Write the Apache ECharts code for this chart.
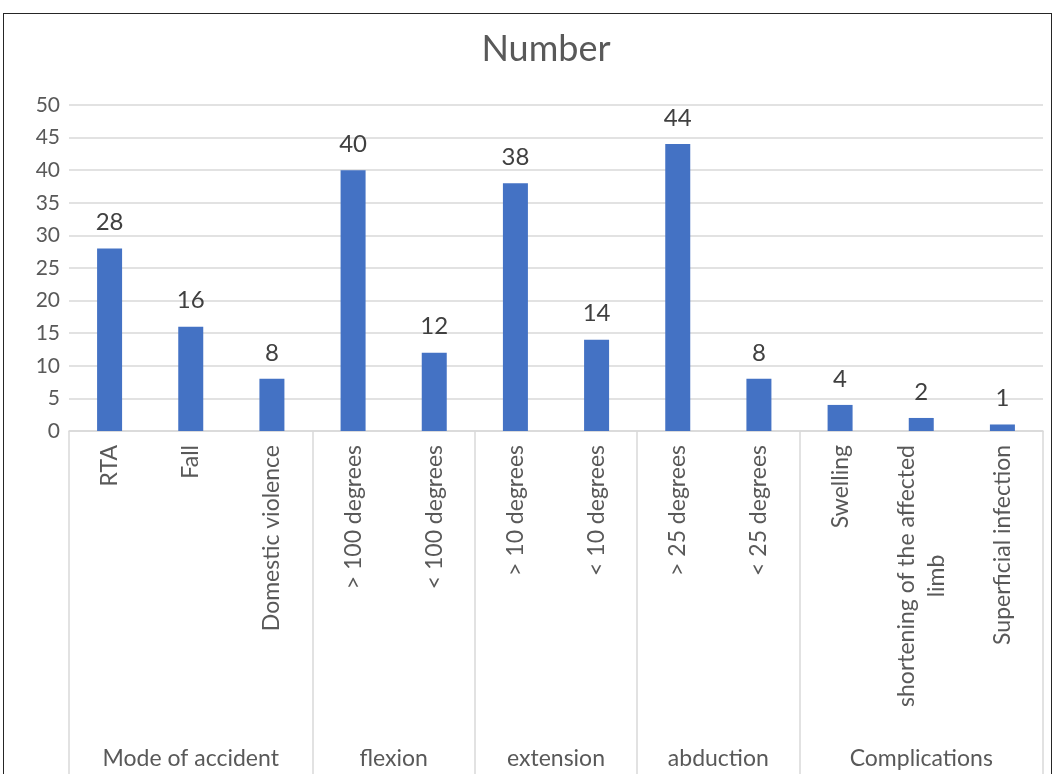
<!DOCTYPE html>
<html>
<head>
<meta charset="utf-8">
<script src="https://cdn.jsdelivr.net/npm/echarts@6/dist/echarts.min.js"></script>
<style>
  html, body { margin: 0; padding: 0; background: #fff; }
  #chart { position: absolute; left: 0; top: 0; width: 1055px; height: 774px; }
  #frame { position: absolute; left: 3px; top: 13px; width: 1047px; height: 800px; border: 1px solid #262626; pointer-events: none; }
</style>
</head>
<body>
<div id="chart"></div>
<div id="frame"></div>
<script>
const categories = ['RTA', 'Fall', 'Domestic violence', '> 100 degrees', '< 100 degrees', '> 10 degrees', '< 10 degrees', '> 25 degrees', '< 25 degrees', 'Swelling', 'shortening of the affected limb', 'Superficial infection'];
const values = [28, 16, 8, 40, 12, 38, 14, 44, 8, 4, 2, 1];
const groups = ['Mode of accident', 'flexion', 'extension', 'abduction', 'Complications'];
const groupSizes = [3, 2, 2, 2, 3];
const yMin = 0, yMax = 50, yStep = 5;

// build half-slot axis for group labels and boundaries
const totalHalf = categories.length * 2;
const groupSlots = new Array(totalHalf + 1).fill('');
const boundarySet = new Set([0]);
let pos = 0;
groups.forEach((g, i) => {
  groupSlots[pos * 2 + groupSizes[i]] = g;
  pos += groupSizes[i];
  boundarySet.add(pos * 2);
});

const FONT = 'Lato';
const GREY = '#595959';

const chart = echarts.init(document.getElementById('chart'));
chart.setOption({
  animation: false,
  title: {
    text: 'Number',
    left: 541,
    textAlign: 'center',
    top: 26,
    textStyle: { fontFamily: FONT, fontSize: 36, fontWeight: 'normal', color: GREY }
  },
  grid: { left: 69, right: 12, top: 105, bottom: 343, containLabel: false },
  xAxis: [
    {
      type: 'category',
      data: categories,
      position: 'bottom',
      axisLine: { show: true, lineStyle: { color: '#d9d9d9', width: 1.5 } },
      axisTick: { show: false },
      axisLabel: {
        interval: 0,
        rotate: 90,
        margin: 14,
        fontFamily: FONT,
        fontSize: 23,
        color: GREY,
        formatter: function (v) {
          if (v === 'shortening of the affected limb') {
            return '{c|shortening of the affected}\n{c|limb}';
          }
          return '{c|' + v + '}';
        },
        rich: { c: { align: 'center', fontFamily: FONT, fontSize: 23, color: GREY, lineHeight: 30 } }
      }
    },
    {
      type: 'category',
      data: groupSlots,
      boundaryGap: false,
      position: 'bottom',
      axisLine: { show: false },
      axisTick: {
        show: true,
        length: 345,
        interval: function (i) { return boundarySet.has(i); },
        lineStyle: { color: '#d9d9d9', width: 1.5 }
      },
      axisLabel: {
        interval: function (i, v) { return v !== ''; },
        margin: 316,
        fontFamily: FONT,
        fontSize: 23,
        color: GREY
      }
    }
  ],
  yAxis: {
    type: 'value',
    min: yMin,
    max: yMax,
    interval: yStep,
    axisLine: { show: false },
    axisTick: { show: false },
    axisLabel: { margin: 9, fontFamily: FONT, fontSize: 21, color: GREY },
    splitLine: { lineStyle: { color: '#d9d9d9', width: 1.5 } }
  },
  series: [{
    type: 'bar',
    data: values,
    xAxisIndex: 0,
    barWidth: 25,
    itemStyle: { color: '#4472c4' },
    label: {
      show: true,
      position: 'top',
      distance: 14,
      fontFamily: FONT,
      fontSize: 24,
      color: '#404040'
    }
  }]
});
</script>
</body>
</html>
